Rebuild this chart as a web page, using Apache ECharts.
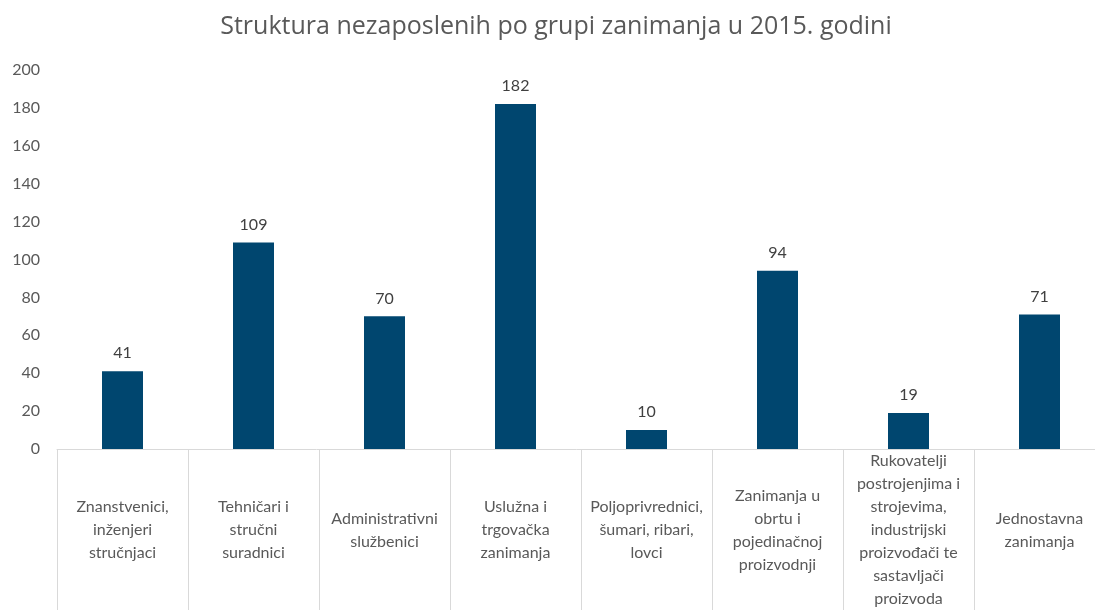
<!DOCTYPE html>
<html>
<head>
<meta charset="utf-8">
<script src="https://cdn.jsdelivr.net/npm/echarts@6/dist/echarts.min.js"></script>
<style>
  html, body { margin: 0; padding: 0; background: #fff; }
  #chart { width: 1095px; height: 610px; }
</style>
</head>
<body>
<div id="chart"></div>
<script>
const naslov = "Struktura nezaposlenih po grupi zanimanja u 2015. godini";

const kategorije = [
    "Znanstvenici,\ninženjeri\nstručnjaci",
    "Tehničari i\nstručni\nsuradnici",
    "Administrativni\nslužbenici",
    "Uslužna i\ntrgovačka\nzanimanja",
    "Poljoprivrednici,\nšumari, ribari,\nlovci",
    "Zanimanja u\nobrtu i\npojedinačnoj\nproizvodnji",
    "Rukovatelji\npostrojenjima i\nstrojevima,\nindustrijski\nproizvođači te\nsastavljači\nproizvoda",
    "Jednostavna\nzanimanja"
];

const vrijednosti = [41, 109, 70, 182, 10, 94, 19, 71];

const yMin = 0;
const yMax = 200;
const yKorak = 20;

const chart = echarts.init(document.getElementById("chart"));

const fontFamily = "Lato, 'Open Sans', sans-serif";
const sivaTekst = "#595959";

const option = {
    animation: false,
    title: {
        text: naslov,
        left: 551,
        textAlign: "center",
        top: 9,
        textStyle: { color: sivaTekst, fontSize: 25, fontWeight: "normal", fontFamily: "'Open Sans', sans-serif" }
    },
    // plot runs a little past the right edge, like in the original
    grid: { left: 57, width: 1048, top: 70, bottom: 161, containLabel: false, outerBoundsMode: "none" },
    xAxis: {
        type: "category",
        data: kategorije,
        axisLine: { show: true, lineStyle: { color: "#d9d9d9", width: 1 } },
        axisTick: { show: true, length: 170, interval: 0, lineStyle: { color: "#d9d9d9" } },
        axisLabel: {
            interval: 0,
            margin: 81,
            verticalAlign: "middle",
            lineHeight: 23,
            color: sivaTekst,
            fontSize: 16,
            fontFamily: fontFamily
        }
    },
    yAxis: {
        type: "value",
        min: yMin,
        max: yMax,
        interval: yKorak,
        axisLine: { show: false },
        axisTick: { show: false },
        splitLine: { show: false },
        axisLabel: { color: sivaTekst, fontSize: 16, margin: 17, fontFamily: fontFamily }
    },
    series: [{
        type: "bar",
        data: vrijednosti,
        barWidth: 41,
        itemStyle: { color: "#00466f" },
        label: {
            show: true,
            position: "top",
            distance: 10,
            color: "#404040",
            fontSize: 16,
            fontFamily: fontFamily
        }
    }]
};

chart.setOption(option);
</script>
</body>
</html>
